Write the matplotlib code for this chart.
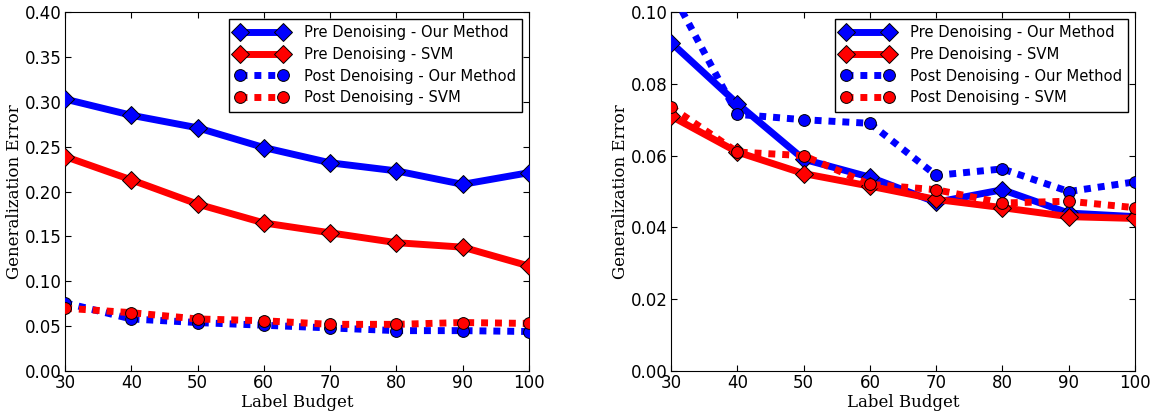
import matplotlib
matplotlib.use('Agg')
import matplotlib.pyplot as plt

budget = [30, 40, 50, 60, 70, 80, 90, 100]

# left panel
pre_ours_a = [0.303, 0.285, 0.271, 0.249, 0.232, 0.223, 0.208, 0.221]
pre_svm_a = [0.239, 0.213, 0.186, 0.165, 0.154, 0.143, 0.138, 0.117]
post_ours_a = [0.076, 0.058, 0.054, 0.051, 0.048, 0.045, 0.045, 0.044]
post_svm_a = [0.070, 0.065, 0.058, 0.056, 0.052, 0.052, 0.054, 0.053]

# right panel
pre_ours_b = [0.0915, 0.0745, 0.059, 0.054, 0.047, 0.0505, 0.044, 0.043]
pre_svm_b = [0.071, 0.061, 0.055, 0.0515, 0.0478, 0.0455, 0.043, 0.0425]
post_ours_b = [0.106, 0.0715, 0.070, 0.069, 0.0545, 0.0563, 0.050, 0.0527]
post_svm_b = [0.0735, 0.061, 0.060, 0.052, 0.0505, 0.0468, 0.0473, 0.0455]

labels = ['Pre Denoising - Our Method', 'Pre Denoising - SVM',
          'Post Denoising - Our Method', 'Post Denoising - SVM']

plt.rcParams['font.family'] = 'DejaVu Sans'

fig = plt.figure(figsize=(11.59, 4.15), dpi=100, facecolor='white')
ax1 = fig.add_axes([0.0561, 0.106, 0.4003, 0.865])
ax2 = fig.add_axes([0.579, 0.106, 0.4003, 0.865])


def draw(ax, pre_o, pre_s, post_o, post_s, ymax, yticks):
    dot = (0, (1, 1))
    ax.plot(budget, pre_o, color='#0000ff', lw=5, marker='D', ms=9.5,
            mec='black', mew=0.7, label=labels[0], zorder=3)
    ax.plot(budget, pre_s, color='#ff0000', lw=5, marker='D', ms=9.5,
            mec='black', mew=0.7, label=labels[1], zorder=3)
    ax.plot(budget, post_o, color='#0000ff', lw=5, ls=dot, marker='o', ms=8.5,
            mec='black', mew=0.7, label=labels[2], zorder=3)
    ax.plot(budget, post_s, color='#ff0000', lw=5, ls=dot, marker='o', ms=8.5,
            mec='black', mew=0.7, label=labels[3], zorder=3)
    ax.set_xlim(30, 100)
    ax.set_ylim(0, ymax)
    ax.set_yticks(yticks)
    ax.set_yticklabels(['%.2f' % t for t in yticks])
    ax.set_xticks(budget)
    ax.tick_params(direction='in', top=True, right=True, length=4,
                   labelsize=12, pad=2.5)
    ax.set_xlabel('Label Budget', family='DejaVu Serif', fontsize=12, labelpad=1)
    ax.set_ylabel('Generalization Error', family='DejaVu Serif', fontsize=12,
                  labelpad=1.5)
    leg = ax.legend(loc='upper right', numpoints=2, fontsize=10.6,
                    fancybox=False, framealpha=1, handlelength=3.5,
                    handletextpad=1.1, borderpad=0.45,
                    borderaxespad=0.45, labelspacing=0.45)
    leg.get_frame().set_edgecolor('black')


draw(ax1, pre_ours_a, pre_svm_a, post_ours_a, post_svm_a, 0.40,
     [0.0, 0.05, 0.10, 0.15, 0.20, 0.25, 0.30, 0.35, 0.40])
draw(ax2, pre_ours_b, pre_svm_b, post_ours_b, post_svm_b, 0.10,
     [0.0, 0.02, 0.04, 0.06, 0.08, 0.10])

fig.savefig('out.png', dpi=100, facecolor='white')
